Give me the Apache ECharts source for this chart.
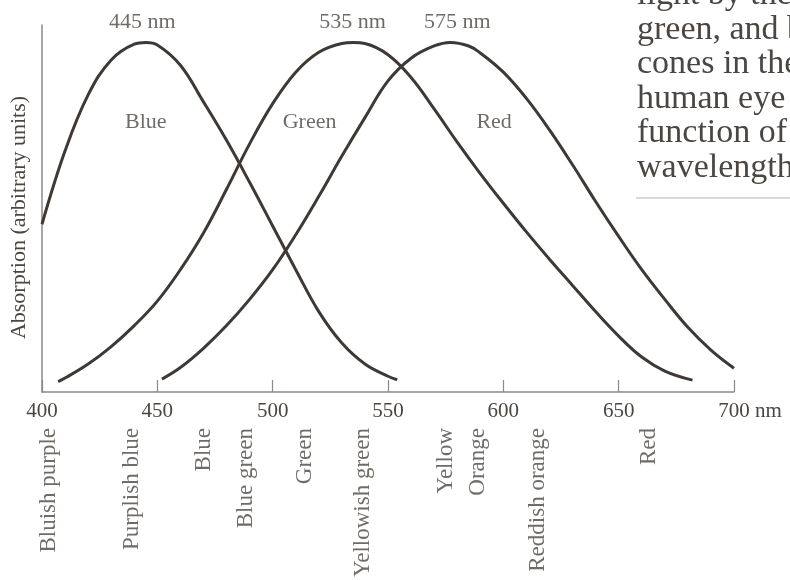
<!DOCTYPE html>
<html><head><meta charset="utf-8">
<script src="https://cdn.jsdelivr.net/npm/echarts@6/dist/echarts.min.js"></script>
<style>html,body{margin:0;padding:0;background:#fff}#c{width:790px;height:580px}</style>
</head><body><div id="c"></div>
<script>
// wavelength axis ticks (nm)
const xTicks = [400, 450, 500, 550, 600, 650, 700];

// cone absorption curves: [wavelength nm, relative absorption]
const blueCone = [[400,0.48],[410,0.69],[420,0.85],[430,0.95],[440,0.995],[445,1.0],[450,0.993],[460,0.935],[470,0.83],[480,0.72],[490,0.6],[500,0.475],[510,0.35],[520,0.23],[530,0.14],[540,0.08],[550,0.045],[554,0.035]];
const greenCone = [[407,0.03],[410,0.04],[420,0.08],[430,0.13],[440,0.19],[450,0.26],[460,0.35],[470,0.455],[480,0.58],[490,0.71],[500,0.825],[510,0.915],[520,0.972],[530,0.997],[535,1.0],[540,0.997],[550,0.965],[560,0.9],[570,0.81],[580,0.715],[590,0.625],[600,0.54],[610,0.458],[620,0.38],[630,0.305],[640,0.23],[650,0.16],[660,0.1],[670,0.06],[682,0.034]];
const redCone = [[452,0.037],[460,0.07],[470,0.125],[480,0.19],[490,0.265],[500,0.35],[510,0.45],[520,0.56],[530,0.675],[540,0.785],[550,0.89],[560,0.955],[570,0.99],[577,1.0],[585,0.99],[590,0.97],[600,0.915],[610,0.84],[620,0.75],[630,0.65],[640,0.545],[650,0.445],[660,0.35],[670,0.265],[680,0.185],[690,0.12],[700,0.068]];

// peak annotations
const peakLabels = ['445 nm', '535 nm', '575 nm'];
const peakLabelX = [443.5, 534.6, 580];
const peakLabelY = 1.059;

// cone names inside the plot
const coneNames = ['Blue', 'Green', 'Red'];
const coneNameX = [445, 516, 596];
const coneNameY = 0.771;

// perceived colour names under the axis
const colorNames = ['Bluish purple','Purplish blue','Blue','Blue green','Green','Yellowish green','Yellow','Orange','Reddish orange','Red'];
const colorNameX = [403, 439, 470, 488.5, 514, 539, 575, 589, 615, 663];
const colorNameY = -0.103;

// side text (from the book page)
const sideText = ['light by the red,', 'green, and blue', 'cones in the', 'human eye as a', 'function of', 'wavelength.'];

const TXT = '#4b4641';
const LINE = '#3e3934';
const AX = '#8c8884';
const FONT = '"Liberation Serif", "Times New Roman", serif';

const chart = echarts.init(document.getElementById('c'), null, {renderer: 'canvas'});

function labelSeries(xs, y, names, extra) {
  return Object.assign({
    type: 'scatter',
    clip: false,
    symbolSize: 1,
    itemStyle: {color: 'rgba(0,0,0,0)'},
    silent: true,
    data: xs.map((x, i) => ({name: names[i], value: [x, y]})),
    label: {show: true, position: 'inside', formatter: '{b}', color: TXT, fontFamily: FONT, fontSize: 22}
  }, extra || {});
}

const curve = d => ({
  type: 'line', data: d, smooth: 0.4, symbol: 'none', silent: true,
  lineStyle: {color: LINE, width: 3}
});

chart.setOption({
  animation: false,
  backgroundColor: '#fff',
  grid: {left: 41, right: 56, top: 25, bottom: 188, containLabel: false},
  xAxis: {
    type: 'value', min: 400, max: 700, interval: 50,
    axisLine: {show: true, lineStyle: {color: AX, width: 1.5}},
    axisTick: {show: true, inside: true, length: 12, lineStyle: {color: AX, width: 1.2}},
    splitLine: {show: false},
    axisLabel: {
      color: TXT, fontFamily: FONT, fontSize: 21, margin: 9,
      formatter: v => v === 700 ? '{p|}700{u| nm}' : String(v),
      rich: {p: {width: 32, fontSize: 21, fontFamily: FONT}, u: {fontSize: 21, fontFamily: FONT, color: TXT}}
    }
  },
  yAxis: {
    type: 'value', min: 0, max: 1.05,
    name: 'Absorption (arbitrary units)', nameLocation: 'middle', nameGap: 12,
    nameTextStyle: {color: TXT, fontFamily: FONT, fontSize: 22, padding: [0, 18, 0, 0]},
    axisLine: {show: true, lineStyle: {color: AX, width: 1.5}},
    axisTick: {show: false}, axisLabel: {show: false}, splitLine: {show: false}
  },
  series: [
    curve(blueCone), curve(greenCone), curve(redCone),
    labelSeries(peakLabelX, peakLabelY, peakLabels),
    labelSeries(coneNameX, coneNameY, coneNames),
    labelSeries(colorNameX, colorNameY, colorNames, {
      label: {show: true, position: 'inside', formatter: '{b}', rotate: 90, align: 'right', verticalAlign: 'middle',
              color: TXT, fontFamily: FONT, fontSize: 23}
    })
  ],
  graphic: [
    ...sideText.map((t, i) => ({
      type: 'text', left: 637, top: -22 + i * 34.6, silent: true,
      style: {text: t, font: '34px ' + FONT, fill: TXT}
    })),
    {type: 'line', silent: true, shape: {x1: 636, y1: 198, x2: 790, y2: 198}, style: {stroke: '#cfcdcb', lineWidth: 1.5}}
  ]
});
</script></body></html>
